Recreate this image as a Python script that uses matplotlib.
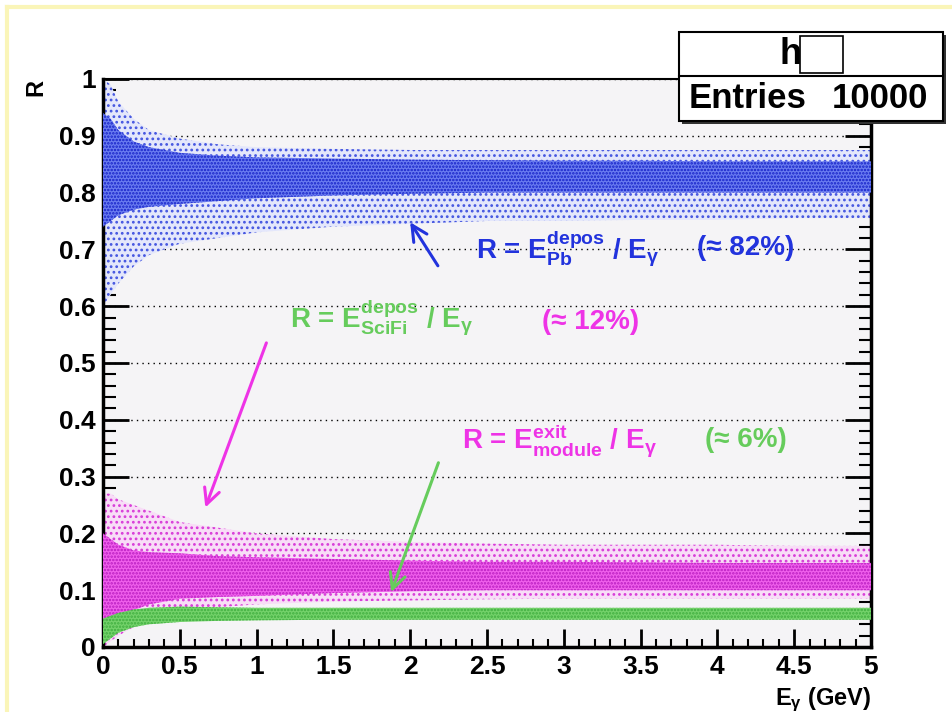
import numpy as np
import matplotlib
matplotlib.use("Agg")
import matplotlib.pyplot as plt
from matplotlib.patches import Rectangle
from matplotlib.ticker import MultipleLocator

plt.rcParams['font.family'] = ['Liberation Sans', 'DejaVu Sans']
plt.rcParams['font.weight'] = 'bold'
plt.rcParams['mathtext.fontset'] = 'custom'
plt.rcParams['mathtext.rm'] = 'Liberation Sans:bold'
plt.rcParams['mathtext.it'] = 'Liberation Sans:bold'
plt.rcParams['mathtext.bf'] = 'Liberation Sans:bold'
plt.rcParams['hatch.linewidth'] = 1.2

# photon energy (GeV) where the band edges were read
energy = [0.0, 0.05, 0.1, 0.2, 0.3, 0.5, 0.75, 1.0, 1.5, 2.0, 2.5, 3.0, 3.5, 4.0, 4.5, 5.0]

# R = E_Pb / E_gamma  (dense core and sparse halo edges)
pb_core_lo = [0.74, 0.75, 0.76, 0.77, 0.775, 0.78, 0.785, 0.79, 0.795, 0.798, 0.80, 0.80, 0.80, 0.80, 0.80, 0.80]
pb_core_hi = [0.94, 0.93, 0.91, 0.89, 0.88, 0.87, 0.865, 0.862, 0.86, 0.858, 0.857, 0.856, 0.856, 0.855, 0.855, 0.855]
pb_halo_lo = [0.60, 0.62, 0.64, 0.67, 0.69, 0.71, 0.72, 0.73, 0.74, 0.745, 0.75, 0.75, 0.752, 0.752, 0.755, 0.755]
pb_halo_hi = [1.00, 0.99, 0.96, 0.93, 0.91, 0.895, 0.885, 0.88, 0.877, 0.875, 0.875, 0.875, 0.875, 0.875, 0.875, 0.875]

# R = E_exit(module) / E_gamma
mod_core_lo = [0.01, 0.03, 0.05, 0.065, 0.075, 0.085, 0.088, 0.09, 0.095, 0.098, 0.10, 0.10, 0.10, 0.10, 0.10, 0.10]
mod_core_hi = [0.20, 0.19, 0.18, 0.17, 0.167, 0.165, 0.16, 0.158, 0.155, 0.152, 0.15, 0.15, 0.149, 0.148, 0.148, 0.148]
mod_halo_lo = [0.0, 0.01, 0.02, 0.035, 0.045, 0.06, 0.07, 0.075, 0.08, 0.082, 0.084, 0.085, 0.085, 0.085, 0.085, 0.085]
mod_halo_hi = [0.27, 0.27, 0.26, 0.25, 0.24, 0.22, 0.21, 0.20, 0.19, 0.185, 0.182, 0.18, 0.18, 0.18, 0.178, 0.178]

# R = E_SciFi / E_gamma
scifi_lo = [0.005, 0.015, 0.025, 0.035, 0.04, 0.044, 0.046, 0.047, 0.048, 0.048, 0.048, 0.048, 0.048, 0.048, 0.048, 0.048]
scifi_hi = [0.05, 0.055, 0.06, 0.066, 0.069, 0.071, 0.07, 0.069, 0.069, 0.069, 0.069, 0.069, 0.069, 0.069, 0.069, 0.069]

x_ticks = [0, 0.5, 1, 1.5, 2, 2.5, 3, 3.5, 4, 4.5, 5]
x_tick_labels = ['0', '0.5', '1', '1.5', '2', '2.5', '3', '3.5', '4', '4.5', '5']
y_ticks = [0, 0.1, 0.2, 0.3, 0.4, 0.5, 0.6, 0.7, 0.8, 0.9, 1]
y_tick_labels = ['0', '0.1', '0.2', '0.3', '0.4', '0.5', '0.6', '0.7', '0.8', '0.9', '1']

n_entries = 10000

blue = '#2233dd'
magenta = '#ee33e6'
green = '#66cc5c'

fig = plt.figure(figsize=(9.52, 7.12), dpi=100)
fig.patch.set_facecolor('white')
ax = fig.add_axes([103 / 952, 65 / 712, 768 / 952, 568 / 712])
ax.set_facecolor('#f5f4f6')

# bands: sparse halo then dense core
ax.fill_between(energy, pb_halo_lo, pb_halo_hi, facecolor='#e4e7fb', edgecolor='#4455e0',
                hatch='...', linewidth=0, zorder=2)
ax.fill_between(energy, pb_core_lo, pb_core_hi, facecolor='#6a7cf0', edgecolor='#1420c8',
                hatch='.....', linewidth=0, zorder=3)
ax.fill_between(energy, mod_halo_lo, mod_halo_hi, facecolor='#f8ddf7', edgecolor='#d83cd8',
                hatch='...', linewidth=0, zorder=2)
ax.fill_between(energy, mod_core_lo, mod_core_hi, facecolor='#f060ec', edgecolor='#b81cc0',
                hatch='.....', linewidth=0, zorder=3)
ax.fill_between(energy, scifi_lo, scifi_hi, facecolor='#74d26b', edgecolor='#3fae3f',
                hatch='.....', linewidth=0, zorder=4)

ax.set_xlim(0, 5)
ax.set_ylim(0, 1)
ax.set_xticks(x_ticks)
ax.set_xticklabels(x_tick_labels)
ax.set_yticks(y_ticks)
ax.set_yticklabels(y_tick_labels)
ax.xaxis.set_minor_locator(MultipleLocator(0.1))
ax.yaxis.set_minor_locator(MultipleLocator(0.02))
ax.tick_params(axis='x', which='major', direction='in', length=13, width=2, pad=6,
               labelsize=19, top=False)
ax.tick_params(axis='x', which='minor', direction='in', length=6, width=1.5, top=False)
ax.tick_params(axis='y', which='major', direction='in', length=19, width=2, pad=5,
               labelsize=19, right=True)
ax.tick_params(axis='y', which='minor', direction='in', length=9, width=1.5, right=True)
for lab in ax.get_xticklabels() + ax.get_yticklabels():
    lab.set_fontweight('bold')
for side in ['left', 'bottom', 'right']:
    ax.spines[side].set_linewidth(2.5)
ax.spines['top'].set_linewidth(1.5)

ax.set_axisbelow(True)
ax.yaxis.grid(True, which='major', linestyle=(0, (1, 3)), color='black', linewidth=1.0)

# annotations
ax.text(2.43, 0.702, r'R = E$_{Pb}^{depos}$ / E$_{\gamma}$', color=blue, fontsize=20,
        va='center', ha='left', zorder=6)
ax.text(3.87, 0.702, '(≈ 82%)', color=blue, fontsize=20, va='center', ha='left', zorder=6)
ax.text(1.22, 0.579, r'R = E$_{SciFi}^{depos}$ / E$_{\gamma}$', color=green, fontsize=20,
        va='center', ha='left', zorder=6)
ax.text(2.86, 0.572, '(≈ 12%)', color=magenta, fontsize=20, va='center', ha='left', zorder=6)
ax.text(2.34, 0.364, r'R = E$_{module}^{exit}$ / E$_{\gamma}$', color=magenta, fontsize=20,
        va='center', ha='left', zorder=6)
ax.text(3.92, 0.364, '(≈ 6%)', color=green, fontsize=20, va='center', ha='left', zorder=6)

arrow_kw = dict(arrowstyle='->', lw=2.2, mutation_scale=28)
ax.annotate('', xy=(1.99, 0.752), xytext=(2.19, 0.667),
            arrowprops=dict(color=blue, **arrow_kw), zorder=6)
ax.annotate('', xy=(0.66, 0.241), xytext=(1.07, 0.54),
            arrowprops=dict(color=magenta, **arrow_kw), zorder=6)
ax.annotate('', xy=(1.87, 0.092), xytext=(2.19, 0.329),
            arrowprops=dict(color=green, **arrow_kw), zorder=6)

# axis titles
fig.text(36 / 952, 1 - 88 / 712, 'R', rotation=90, fontsize=17, fontweight='bold',
         ha='center', va='center')
fig.text(871 / 952, 1 - 705 / 712, r'E$_{\gamma}$ (GeV)', fontsize=17, fontweight='bold',
         ha='right', va='baseline')

# stats box
bx0, bx1 = 679 / 952, 943 / 952
by0, by1 = 1 - 121 / 712, 1 - 32 / 712
fig.patches.append(Rectangle((bx0 + 3 / 952, by0 - 3 / 712), bx1 - bx0, by1 - by0,
                             transform=fig.transFigure, facecolor='#333333',
                             edgecolor='none', zorder=8))
fig.patches.append(Rectangle((bx0, by0), bx1 - bx0, by1 - by0, transform=fig.transFigure,
                             facecolor='white', edgecolor='black', linewidth=1.5, zorder=9))
fig.add_artist(plt.Line2D([bx0, bx1], [1 - 76 / 712, 1 - 76 / 712], color='black',
                          linewidth=1.5, transform=fig.transFigure, zorder=10))
fig.text(791 / 952, 1 - 54 / 712, 'h', fontsize=26, fontweight='bold', ha='center',
         va='center', zorder=10)
fig.patches.append(Rectangle((800 / 952, 1 - 73 / 712), 43 / 952, 37 / 712,
                             transform=fig.transFigure, facecolor='white',
                             edgecolor='black', linewidth=1.2, zorder=10))
fig.text(689 / 952, 1 - 99 / 712, 'Entries', fontsize=25, fontweight='bold', ha='left',
         va='center', zorder=10)
fig.text(928 / 952, 1 - 99 / 712, str(n_entries), fontsize=25, fontweight='bold',
         ha='right', va='center', zorder=10)

# faint yellow frame
fig.add_artist(plt.Line2D([7 / 952, 1], [1 - 7 / 712, 1 - 7 / 712], color='#faf5b8',
                          linewidth=3, transform=fig.transFigure))
fig.add_artist(plt.Line2D([7 / 952, 7 / 952], [0, 1 - 7 / 712], color='#faf5b8',
                          linewidth=3, transform=fig.transFigure))

fig.savefig('out.png', dpi=100)
